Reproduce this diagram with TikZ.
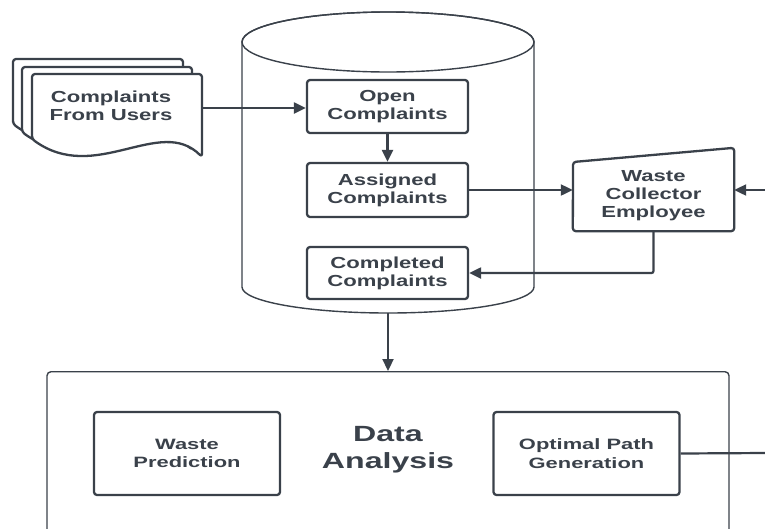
\documentclass[tikz,border=0pt]{standalone}
\usepackage{fontspec}
\usetikzlibrary{arrows.meta}
\newfontfamily\upperfont{Liberation Sans}[FakeStretch=1.38]
\newfontfamily\lowerfont{Liberation Sans}[FakeStretch=1.46]
\definecolor{ink}{HTML}{3A414A}
\begin{document}
\begin{tikzpicture}[x=1pt,y=-1pt,
  lbl/.style={text=ink, align=center, inner sep=0pt,
    font=\upperfont\bfseries\fontsize{16}{18}\selectfont},
  smalllbl/.style={text=ink, align=center, inner sep=0pt,
    font=\lowerfont\bfseries\fontsize{15}{18.5}\selectfont},
  biglbl/.style={text=ink, align=center, inner sep=0pt,
    font=\lowerfont\bfseries\fontsize{22}{27}\selectfont},
  outline/.style={draw=ink, line width=2.3pt, rounded corners=3pt, line join=round},
  stepbox/.style={outline, fill=white, lbl, minimum width=161pt, minimum height=53pt},
  taskbox/.style={outline, fill=white, smalllbl, minimum width=186pt, minimum height=83pt},
  thinline/.style={draw=ink, line width=1.4pt},
  flow/.style={draw=ink, line width=2.2pt, rounded corners=2pt,
    -{Triangle[length=12pt,width=11pt]}},
  docpage/.pic={
    \draw[outline, fill=white] (0,65) -- (0,0) -- (170,0) -- (170,83)
      .. controls (128,41) and (63,111) .. (0,65) -- cycle;
  }]
\useasboundingbox (0,0) rectangle (765,528);
\clip (0,0) rectangle (765,528);

% database cylinder
\draw[thinline, fill=white] (242,42) -- (242,287)
  arc[start angle=180, end angle=360, x radius=146pt, y radius=26pt]
  -- (534,42)
  arc[start angle=0, end angle=180, x radius=146pt, y radius=30pt] -- cycle;
\draw[thinline] (388,42) ellipse[x radius=146pt, y radius=30pt];
\coordinate (cylbase) at (388,313);

% stack of documents
\pic at (13,59) {docpage};
\pic at (22,67) {docpage};
\pic at (32,74) {docpage};
\node[minimum width=170pt, minimum height=60pt, inner sep=0pt] (users) at (117,108) {};
\node[lbl] at (111,106) {Complaints\\From Users};

% complaint states
\node[stepbox] (open) at (387.5,106.5) {Open\\Complaints};
\node[stepbox, minimum height=54pt] (assigned) at (387.5,190) {Assigned\\Complaints};
\node[stepbox, minimum height=52pt] (completed) at (387.5,273) {Completed\\Complaints};

% manual input: waste collector
\node[minimum width=161pt, minimum height=83pt, inner sep=0pt] (wce) at (653.5,189.5) {};
\draw[outline, fill=white] (wce.south west) -- (573,162) -- (wce.north east)
  -- (wce.south east) -- cycle;
\node[lbl] at (653.5,196) {Waste\\Collector\\Employee};

% analysis block
\node[thinline, rounded corners=4pt, minimum width=682pt, minimum height=220pt,
  anchor=north, inner sep=0pt] (analysis) at (388,371) {};
\node[taskbox] (predict) at (187,453.5) {Waste\\Prediction};
\node[taskbox] (route) at (586.5,453.5) {Optimal Path\\Generation};
\node[biglbl] (da) at (388,450) {Data\\Analysis};

% connectors
\draw[flow] (users.east) -- (users.east -| open.west);
\draw[flow] (open.south) -- (assigned.north);
\draw[flow] (assigned.east) -- (assigned.east -| wce.west);
\coordinate (rightin) at (765,190);
\draw[flow] (rightin) -- (rightin -| wce.east);
\draw[flow] (wce.south) |- (completed.east);
\draw[flow] (cylbase) -- (analysis.north);
\coordinate (rightout) at (765,453);
\draw[draw=ink, line width=2.2pt] (route.east) -- (rightout);
\end{tikzpicture}
\end{document}
